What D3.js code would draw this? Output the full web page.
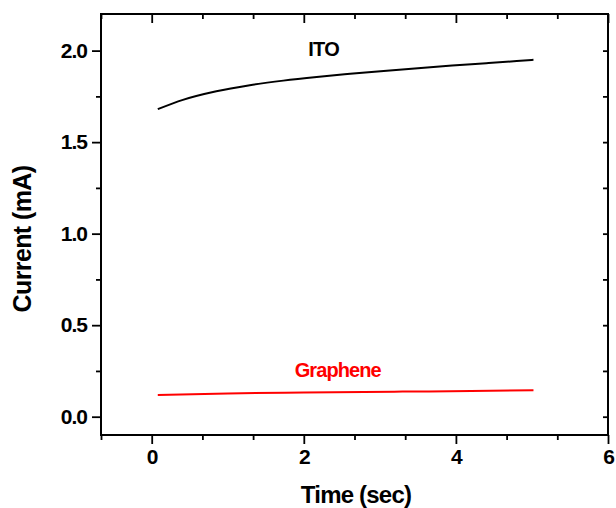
<!DOCTYPE html>
<html>
<head>
<meta charset="utf-8">
<script src="https://cdn.jsdelivr.net/npm/d3@7"></script>
<style>
  body { margin: 0; background: #fff; }
  svg text { font-family: "Liberation Sans", Arial, sans-serif; font-weight: bold; }
</style>
</head>
<body>
<svg id="chart" width="616" height="508"></svg>
<script>
// Datos
const itoTime    = [0.08, 0.41, 0.85, 1.29, 1.73, 2.17, 2.61, 3.05, 3.5, 3.95, 4.4, 4.8, 5.02];
const itoCurrent = [1.680, 1.731, 1.778, 1.811, 1.836, 1.856, 1.873, 1.889, 1.904, 1.918, 1.931, 1.943, 1.950];

const grTime    = [0.08, 1.0, 2.0, 3.3, 4.2, 5.02];
const grCurrent = [0.118, 0.127, 0.132, 0.137, 0.140, 0.145];

const xMajor = [0, 2, 4, 6];
const xMinor = [-2/3, 2/3, 4/3, 8/3, 10/3, 14/3, 16/3];
const yMajor = [0.0, 0.5, 1.0, 1.5, 2.0];
const yMinor = [0.25, 0.75, 1.25, 1.75];

const W = 616, H = 508;
const margin = {top: 14, right: 8, bottom: 73, left: 101};
const iw = W - margin.left - margin.right;
const ih = H - margin.top - margin.bottom;

const svg = d3.select("#chart");
const g = svg.append("g").attr("transform", `translate(${margin.left},${margin.top})`);

const x = d3.scaleLinear().domain([-2/3, 6]).range([0, iw]);
const y = d3.scaleLinear().domain([-0.1, 2.2]).range([ih, 0]);

// Estilo comun de ejes
function styleAxis(sel, labels) {
  sel.select(".domain").remove();
  sel.selectAll(".tick line").attr("stroke", "#000").attr("stroke-width", 1.8);
  if (labels) {
    sel.selectAll(".tick text")
      .attr("fill", "#000")
      .style("font-size", "21px")
      .style("letter-spacing", "-1px");
  }
}

// Eje inferior
g.append("g").attr("transform", `translate(0,${ih})`)
  .call(d3.axisBottom(x).tickValues(xMajor).tickFormat(d3.format("d")).tickSize(9).tickPadding(5))
  .call(s => styleAxis(s, true));
g.append("g").attr("transform", `translate(0,${ih})`)
  .call(d3.axisBottom(x).tickValues(xMinor).tickFormat("").tickSize(5))
  .call(s => styleAxis(s, false));

// Eje superior (ticks hacia dentro)
g.append("g")
  .call(d3.axisBottom(x).tickValues(xMajor).tickFormat("").tickSize(9))
  .call(s => styleAxis(s, false));
g.append("g")
  .call(d3.axisBottom(x).tickValues(xMinor).tickFormat("").tickSize(5))
  .call(s => styleAxis(s, false));

// Eje izquierdo
g.append("g")
  .call(d3.axisLeft(y).tickValues(yMajor).tickFormat(d3.format(".1f")).tickSize(9).tickPadding(5))
  .call(s => styleAxis(s, true));
g.append("g")
  .call(d3.axisLeft(y).tickValues(yMinor).tickFormat("").tickSize(5))
  .call(s => styleAxis(s, false));

// Eje derecho (ticks hacia dentro)
g.append("g").attr("transform", `translate(${iw},0)`)
  .call(d3.axisLeft(y).tickValues(yMajor.concat(yMinor)).tickFormat("").tickSize(5))
  .call(s => styleAxis(s, false));

// Marco
g.append("rect")
  .attr("width", iw).attr("height", ih)
  .attr("fill", "none").attr("stroke", "#000").attr("stroke-width", 2);

const line = d3.line().curve(d3.curveMonotoneX)
  .x(d => x(d[0])).y(d => y(d[1]));

g.append("path")
  .datum(d3.zip(itoTime, itoCurrent))
  .attr("fill", "none").attr("stroke", "#000").attr("stroke-width", 2)
  .attr("d", line);

g.append("path")
  .datum(d3.zip(grTime, grCurrent))
  .attr("fill", "none").attr("stroke", "#ff0000").attr("stroke-width", 2)
  .attr("d", line);

// Etiquetas de las series
g.append("text")
  .attr("x", x(2.06)).attr("y", y(2.0) + 5)
  .style("font-size", "20px").style("letter-spacing", "-0.8px")
  .attr("fill", "#000").text("ITO");

g.append("text")
  .attr("x", x(1.88)).attr("y", y(0.245) + 5)
  .style("font-size", "20px").style("letter-spacing", "-0.9px")
  .attr("fill", "#ff0000").text("Graphene");

// Titulos de los ejes
svg.append("text")
  .attr("x", 356).attr("y", 503)
  .attr("text-anchor", "middle")
  .style("font-size", "24px").style("letter-spacing", "-0.8px")
  .text("Time (sec)");

svg.append("text")
  .attr("transform", "translate(31,239) rotate(-90)")
  .attr("text-anchor", "middle")
  .style("font-size", "25px").style("letter-spacing", "-0.6px")
  .text("Current (mA)");
</script>
</body>
</html>
